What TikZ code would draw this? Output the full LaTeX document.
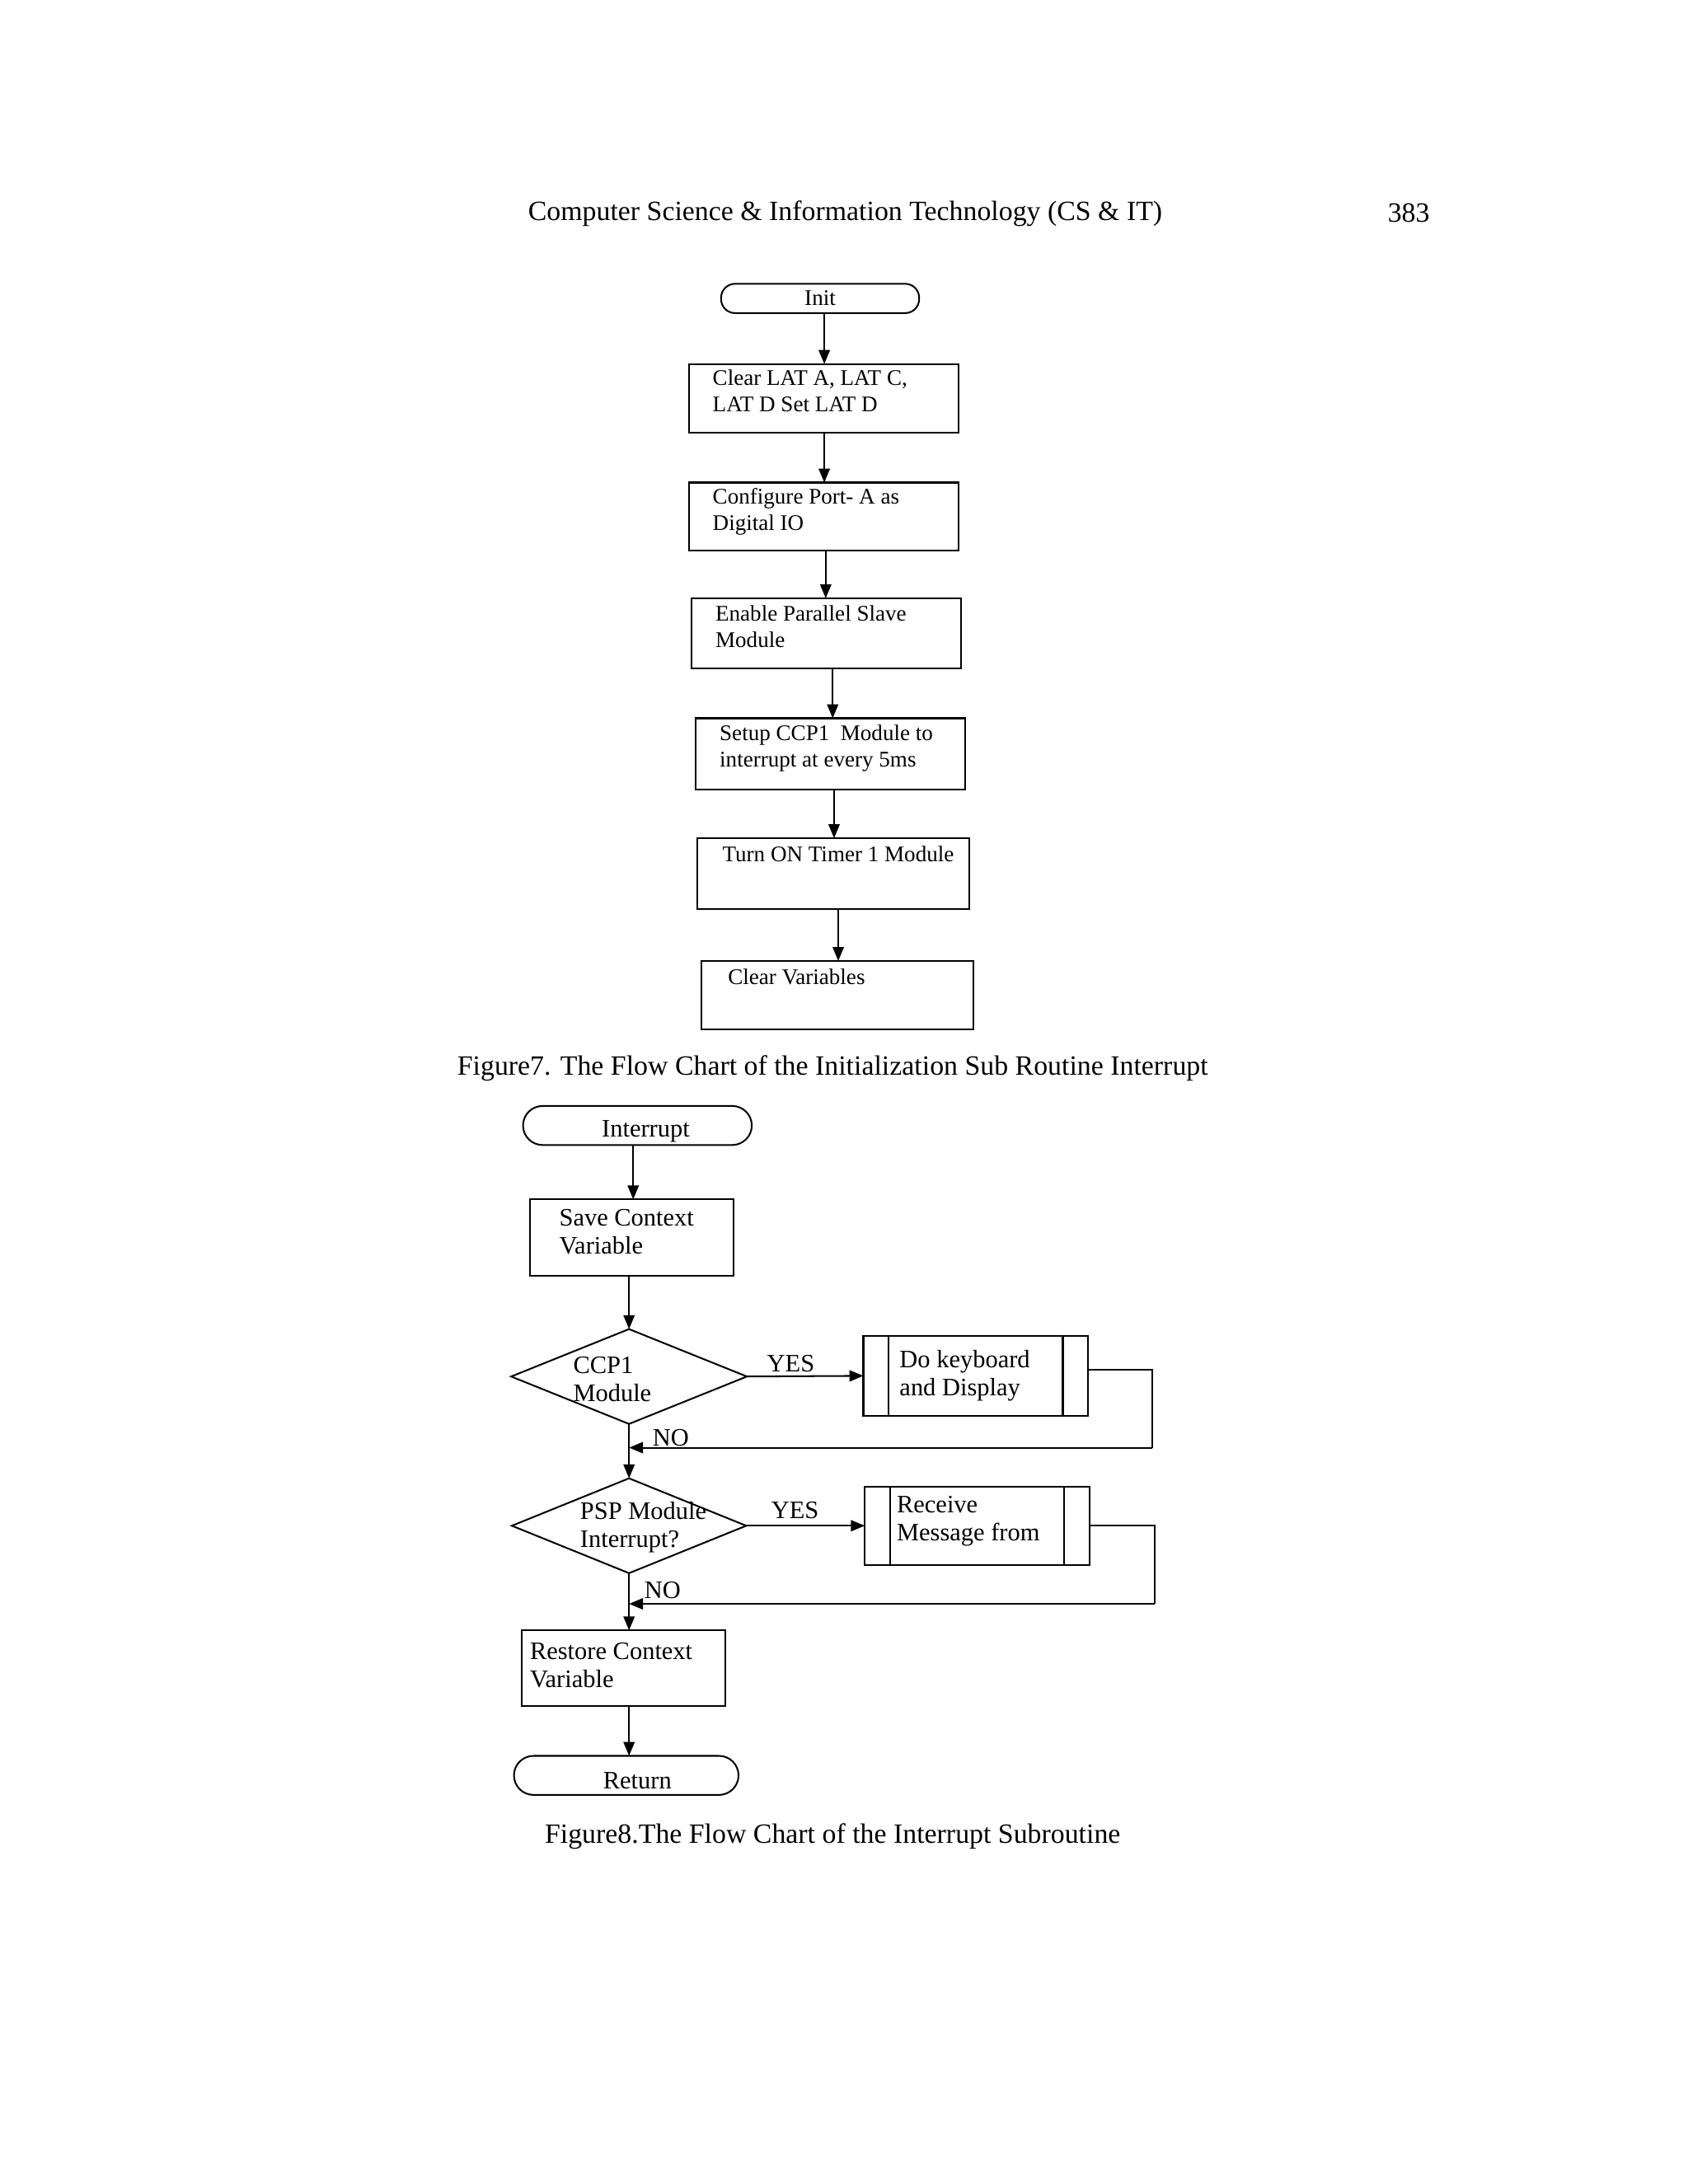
\documentclass[tikz,border=0pt]{standalone}
\usepackage{fontspec}
\setmainfont{Liberation Serif}
\usetikzlibrary{shapes.geometric,arrows.meta,calc}
\begin{document}
\begin{tikzpicture}[x=0.5pt,y=-0.5pt,
  every node/.style={inner sep=0pt,outer sep=0pt},
  box/.style={draw,line width=0.6pt,minimum width=#1*0.5pt},
  arr/.style={-{Triangle[length=5pt,width=4pt]},line width=0.6pt},
  ln/.style={line width=0.6pt},
  term/.style={draw,line width=0.6pt,rounded corners=6pt},
  t7/.style={font=\fontsize{8}{9.5}\selectfont,align=left},
  t8/.style={font=\fontsize{9}{10}\selectfont,align=left}]
\useasboundingbox (0,0) rectangle (1210,1566);
\node[font=\fontsize{10}{12}\selectfont] (hdr) at (606,153) {Computer Science \& Information Technology (CS \& IT)};
\node[font=\fontsize{10}{12}\selectfont] (pg) at (1010,153) {383};
% Figure 7
\node[term,minimum width=71pt,minimum height=10.5pt,rounded corners=5pt,t7] (init) at (588,214) {Init};
\node[box=193,minimum height=24.5pt] (b1) at (590.5,285.5) {};
\node[t7,anchor=north west] (b1t) at (511,265) {Clear LAT A, LAT C,\\LAT D Set LAT D};
\node[box=193,minimum height=24.5pt] (b2) at (590.5,370.5) {};
\node[t7,anchor=north west] (b2t) at (511,350) {Configure Port- A as\\Digital IO};
\node[box=193,minimum height=25pt] (b3) at (592.5,454) {};
\node[t7,anchor=north west] (b3t) at (513,434) {Enable Parallel Slave\\Module};
\node[box=193,minimum height=25.5pt] (b4) at (595.5,540.5) {};
\node[t7,anchor=north west] (b4t) at (516,520) {Setup CCP1~ Module to\\interrupt at every 5ms};
\node[box=195,minimum height=25.5pt] (b5) at (597.5,626.5) {};
\node[t7,anchor=north west] (b5t) at (518,607) {Turn ON Timer 1 Module};
\node[box=195,minimum height=24.5pt] (b6) at (600.5,713.5) {};
\node[t7,anchor=north west] (b6t) at (522,695) {Clear Variables};
\draw[arr] (init.south -| 591,0) -- (b1.north -| 591,0);
\draw[arr] (b1.south -| 591,0) -- (b2.north -| 591,0);
\draw[arr] (b2.south -| 592,0) -- (b3.north -| 592,0);
\draw[arr] (b3.south -| 597,0) -- (b4.north -| 597,0);
\draw[arr] (b4.south -| 598,0) -- (b5.north -| 598,0);
\draw[arr] (b5.south -| 601,0) -- (b6.north -| 601,0);
\node[font=\fontsize{10}{12}\selectfont] (cap7) at (597,766) {Figure7. The Flow Chart of the Initialization Sub Routine Interrupt};
% Figure 8
\node[term,minimum width=82pt,minimum height=14pt,rounded corners=7pt] (intr) at (457,807) {};
\node[t8] (intrt) at (463,811) {Interrupt};
\node[box=146,minimum height=27.5pt] (save) at (453,887.5) {};
\node[t8,anchor=north west] (savet) at (401,867) {Save Context\\Variable};
\node[draw,ln,diamond,aspect=2.5,minimum width=84.5pt,minimum height=34pt,inner sep=0pt] (d1) at (451,987) {};
\node[t8,anchor=north west] (d1t) at (411,973) {CCP1\\Module};
\node[box=161,minimum height=28.5pt] (kb) at (699.5,986.5) {};
\draw[ln] (637,958) -- (637,1015) (762,958) -- (762,1015);
\node[t8,anchor=north west] (kbt) at (645,968) {Do keyboard\\and Display};
\node[draw,ln,diamond,aspect=2.5,minimum width=84pt,minimum height=34pt,inner sep=0pt] (d2) at (451,1094) {};
\node[t8,anchor=north west] (d2t) at (416,1077) {PSP Module\\Interrupt?};
\node[box=161,minimum height=28pt] (rc) at (700.5,1094) {};
\draw[ln] (638,1066) -- (638,1122) (763,1066) -- (763,1122);
\node[t8,anchor=north west] (rct) at (643,1073) {Receive\\Message from};
\node[box=146,minimum height=27pt] (rest) at (447,1196) {};
\node[t8,anchor=north west] (restt) at (380,1178) {Restore Context\\Variable};
\node[term,minimum width=80.5pt,minimum height=14pt,rounded corners=7pt] (ret) at (449,1273) {};
\node[t8] (rett) at (457,1277) {Return};
\coordinate (m1) at (451,1038);
\coordinate (m2) at (451,1150);
\draw[arr] (intr.south -| 454,0) -- (save.north -| 454,0);
\draw[arr] (save.south -| 451,0) -- (d1.north);
\draw[arr] (d1.east) -- (kb.west);
\draw[ln] (kb.east |- 0,982) -- (826,982) -- (826,1038);
\draw[arr] (826,1038) -- (m1);
\draw[arr] (d1.south) -- (d2.north);
\draw[arr] (d2.east) -- (rc.west);
\draw[ln] (rc.east) -- (828,1094) -- (828,1150);
\draw[arr] (828,1150) -- (m2);
\draw[arr] (d2.south) -- (rest.north -| 451,0);
\draw[arr] (rest.south -| 451,0) -- (ret.north -| 451,0);
\node[t8] (y1) at (567,978) {YES};
\node[t8] (n1) at (481,1031) {NO};
\node[t8] (y2) at (570,1083) {YES};
\node[t8] (n2) at (475,1140) {NO};
\node[font=\fontsize{10}{12}\selectfont] (cap8) at (597,1317) {Figure8.The Flow Chart of the Interrupt Subroutine};
\end{tikzpicture}
\end{document}
